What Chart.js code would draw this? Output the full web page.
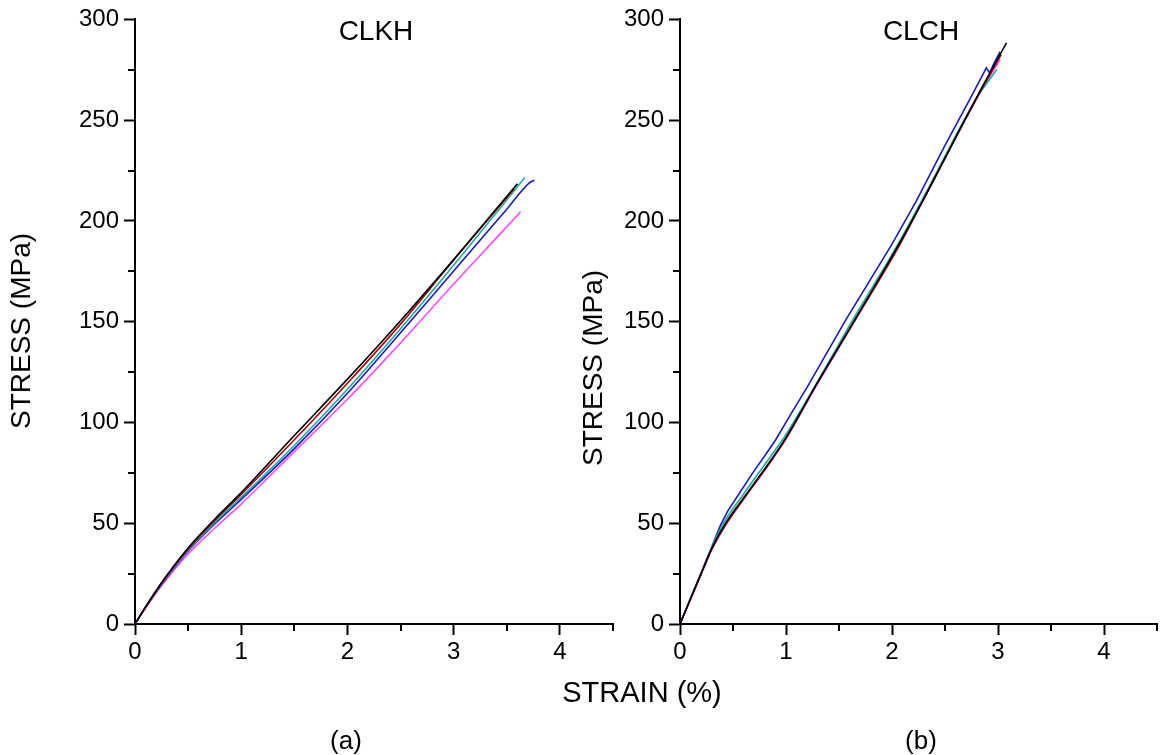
<!DOCTYPE html>
<html>
<head>
<meta charset="utf-8">
<script src="https://cdn.jsdelivr.net/npm/chart.js@4.4.1/dist/chart.umd.min.js"></script>
<style>
  html, body { margin: 0; padding: 0; background: #fff; }
  body { width: 1167px; height: 755px; position: relative; overflow: hidden;
         font-family: "Liberation Sans", Arial, sans-serif; color: #000; }
  canvas { position: absolute; top: 0; }
  .lbl { position: absolute; white-space: nowrap; transform: translate(-50%, -50%); line-height: 1; }
  .rot { transform: translate(-50%, -50%) rotate(-90deg); }
</style>
</head>
<body>
<canvas id="chart-a" width="640" height="755" style="left:0"></canvas>
<canvas id="chart-b" width="595" height="755" style="left:572px"></canvas>

<div class="lbl" style="left:376px;top:31px;font-size:28px">CLKH</div>
<div class="lbl" style="left:921px;top:31px;font-size:28px">CLCH</div>
<div class="lbl rot" style="left:21px;top:331px;font-size:28px">STRESS (MPa)</div>
<div class="lbl rot" style="left:593px;top:368px;font-size:28px">STRESS (MPa)</div>
<div class="lbl" style="left:642px;top:692px;font-size:29px">STRAIN (%)</div>
<div class="lbl" style="left:346px;top:740px;font-size:26px">(a)</div>
<div class="lbl" style="left:921px;top:740px;font-size:26px">(b)</div>

<script>
// strain (%) -> stress (MPa)
const CLKH_BLACK = [[0, 0], [0.1, 8.6], [0.25, 20.5], [0.5, 37.7], [0.75, 52], [1, 65.2], [1.5, 93.5], [2, 121.5], [2.5, 150.5], [3, 180.8], [3.6, 218.5]];
const CLKH_RED = [[0, 0], [0.1, 8.4], [0.25, 20.2], [0.5, 37.2], [0.75, 51.3], [1, 64.3], [1.5, 91.4], [2, 119.5], [2.5, 148.8], [3, 180.6], [3.57, 216]];
const CLKH_CYAN = [[0, 0], [0.1, 8.3], [0.25, 19.8], [0.5, 36.6], [0.75, 50.3], [1, 62.8], [1.5, 88.6], [2, 116.5], [2.5, 146.5], [3, 178], [3.67, 221.6]];
const CLKH_BLUE = [[0, 0], [0.1, 8.2], [0.25, 19.6], [0.5, 36.2], [0.75, 49.6], [1, 61.8], [1.5, 87], [2, 114.5], [2.5, 144.5], [3, 175.2], [3.5, 205.8], [3.71, 218.8], [3.76, 220.2]];
const CLKH_MAGENTA = [[0, 0], [0.1, 8], [0.25, 19], [0.5, 34.8], [0.75, 47.5], [1, 59.5], [1.5, 85.5], [2, 111.5], [2.5, 139.5], [3, 168.7], [3.63, 204.5]];

const CLCH_BLACK = [[0, 0], [0.1, 12.6], [0.2, 25], [0.3, 37.5], [0.43, 50], [0.62, 64], [0.8, 77], [1, 92.5], [1.3, 120], [1.65, 151], [2.05, 187], [2.29, 210], [2.79, 260.5], [3.08, 288.4]];
const CLCH_RED = [[0, 0], [0.1, 12.5], [0.2, 25], [0.3, 37.2], [0.44, 50], [0.6, 62], [0.8, 76.5], [1, 92], [1.3, 120], [1.65, 150.7], [2.05, 186], [2.29, 210], [2.79, 260], [3.03, 282.5]];
const CLCH_CYAN = [[0, 0], [0.1, 12.7], [0.2, 25.2], [0.3, 38], [0.41, 50], [0.6, 64.5], [0.9, 86.5], [1, 94], [1.3, 120.5], [1.62, 150], [2.04, 187], [2.28, 210], [2.8, 261], [2.99, 275.2]];
const CLCH_BLUE = [[0, 0], [0.1, 12.8], [0.2, 25.5], [0.3, 38.3], [0.38, 48.8], [0.45, 56], [0.55, 64], [0.68, 74.5], [0.8, 83.5], [0.9, 91.2], [1.05, 104.5], [1.2, 117.5], [1.56, 150.5], [2, 188.5], [2.23, 210], [2.5, 237.5], [2.73, 260], [2.89, 276], [2.92, 273.5], [2.96, 278], [3.02, 284]];
const CLCH_MAGENTA = [[0, 0], [0.1, 12.3], [0.2, 24.8], [0.3, 37], [0.44, 50], [0.62, 63.5], [0.8, 76.5], [1, 92], [1.3, 119.5], [1.65, 150.5], [2.05, 186.5], [2.29, 210], [2.79, 260], [3.02, 280]];

const X_MIN = 0, X_MAX = 4.5, X_STEP = 1;
const Y_MIN = 0, Y_MAX = 300, Y_STEP = 50;

const COLORS = { black: "#000000", red: "#b00000", cyan: "#1aa8a8", blue: "#1a1abf", magenta: "#ff4dff" };
const FONT = { family: '"Liberation Sans", Arial, sans-serif', size: 24 };

// Origin-style minor ticks halfway between the majors
const minorTicks = {
	id: "minorTicks",
	afterDraw(chart) {
		const { ctx } = chart;
		const x = chart.scales.x;
		const y = chart.scales.y;
		ctx.save();
		ctx.strokeStyle = "#000";
		ctx.lineWidth = 2;
		ctx.beginPath();
		for (let v = X_MIN + X_STEP / 2; v <= X_MAX; v += X_STEP) {
			const px = Math.round(x.getPixelForValue(v));
			ctx.moveTo(px, x.top);
			ctx.lineTo(px, x.top + 7);
		}
		for (let v = Y_MIN + Y_STEP / 2; v < Y_MAX; v += Y_STEP) {
			const py = Math.round(y.getPixelForValue(v));
			ctx.moveTo(y.right, py);
			ctx.lineTo(y.right - 7, py);
		}
		ctx.stroke();
		ctx.restore();
	},
};

// sharp = straight segments (keeps the small kink near the end of a curve)
function dataset(points, color, sharp) {
	return {
		data: points.map(([x, y]) => ({ x, y })),
		borderColor: color,
		borderWidth: 1.6,
		pointRadius: 0,
		cubicInterpolationMode: sharp ? "default" : "monotone",
		tension: 0,
		fill: false,
	};
}

const axisStyle = {
	grid: { drawOnChartArea: false, drawTicks: true, tickLength: 11, tickColor: "#000", tickWidth: 2 },
	border: { display: true, color: "#000", width: 2 },
};

function makeChart(id, series, axisWidth, padRight) {
	return new Chart(document.getElementById(id), {
		type: "line",
		data: { datasets: series.map(([pts, c, sharp]) => dataset(pts, c, sharp)) },
		options: {
			responsive: false,
			animation: false,
			layout: { padding: { top: 19, right: padRight, left: 0, bottom: 0 } },
			plugins: { legend: { display: false }, tooltip: { enabled: false } },
			scales: {
				x: {
					type: "linear",
					min: X_MIN,
					max: X_MAX,
					afterFit: (s) => { s.height = 131; },
					ticks: { stepSize: X_STEP, includeBounds: false, padding: 3, color: "#000", font: FONT },
					...axisStyle,
				},
				y: {
					type: "linear",
					min: Y_MIN,
					max: Y_MAX,
					afterFit: (s) => { s.width = axisWidth; },
					ticks: { stepSize: Y_STEP, padding: 5, color: "#000", font: FONT },
					...axisStyle,
				},
			},
		},
		plugins: [minorTicks],
	});
}

makeChart("chart-a", [
	[CLKH_BLACK, COLORS.black],
	[CLKH_RED, COLORS.red],
	[CLKH_CYAN, COLORS.cyan],
	[CLKH_BLUE, COLORS.blue],
	[CLKH_MAGENTA, COLORS.magenta],
], 135, 27);

makeChart("chart-b", [
	[CLCH_BLACK, COLORS.black],
	[CLCH_RED, COLORS.red],
	[CLCH_CYAN, COLORS.cyan],
	[CLCH_BLUE, COLORS.blue, true],
	[CLCH_MAGENTA, COLORS.magenta],
], 108, 10);
</script>
</body>
</html>
